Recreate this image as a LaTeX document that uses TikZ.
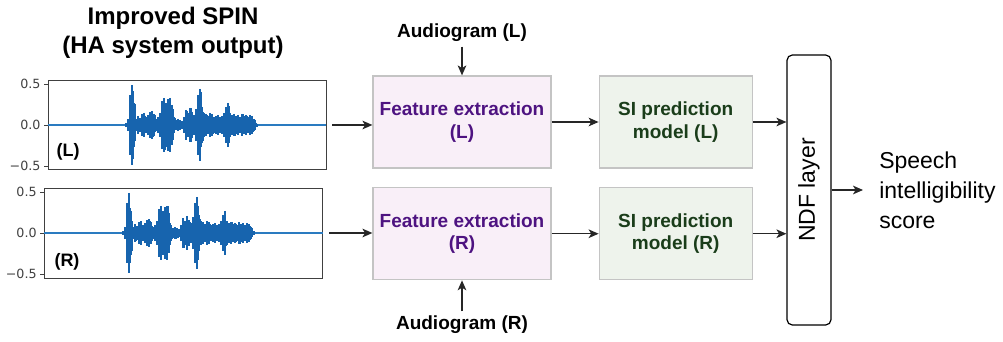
\documentclass[tikz,border=0pt]{standalone}
\usepackage{fontspec}
\setmainfont{Liberation Sans}
\newfontfamily\tickfont{DejaVu Sans}
\usepackage{graphicx}
\usetikzlibrary{arrows.meta,positioning,calc}
\definecolor{featfill}{HTML}{F9EFF8}
\definecolor{feattext}{HTML}{4E1381}
\definecolor{sifill}{HTML}{EEF3EC}
\definecolor{sitext}{HTML}{1A3D1A}
\definecolor{boxline}{HTML}{C4C4C4}
\definecolor{wavec}{HTML}{1764AE}
\definecolor{zeroc}{HTML}{2A7BC0}

\begin{document}
\begin{tikzpicture}[x=0.75pt,y=-0.75pt,
  box/.style={rectangle,draw=boxline,line width=0.9pt,minimum width=133.5pt,minimum height=69pt,align=center,font=\bfseries\fontsize{14.25}{17}\selectfont},
  feat/.style={box,fill=featfill,text=feattext},
  si/.style={box,fill=sifill,text=sitext,minimum width=114.75pt},
  plotframe/.style={rectangle,draw=black!75,line width=0.7pt,minimum width=208.5pt,minimum height=66.75pt,inner sep=0pt},
  lbl/.style={font=\bfseries\fontsize{14.25}{17}\selectfont},
  tick/.style={font=\tickfont\fontsize{9.5}{11}\selectfont,anchor=east,inner sep=2pt},
  wave/.style={wavec,line width=1.4pt},
  arrow/.style={-{Stealth[length=7.5pt,width=6.5pt,inset=2pt]},draw=black!85,line width=1pt}]
\useasboundingbox (0,0) rectangle (1003,342);

% title and the two signal plots
\node[align=center,font=\bfseries\fontsize{18}{21.75}\selectfont] (title) at (173,32.5) {Improved SPIN\\(HA system output)};
\node[plotframe] (plotL) at (187,125) {};
\node[plotframe,minimum width=209pt,minimum height=67.5pt] (plotR) at (183.5,233) {};
\foreach \p in {plotL,plotR} {
  \draw[zeroc,line width=0.9pt] (\p.west) -- (\p.east);
  \foreach \dy/\lab [count=\i] in {-41/0.5,0/0.0,41/−0.5}
    \draw[black!75,line width=0.6pt] ($(\p.west)+(0,\dy)$) -- ++(-4,0) node[tick] (\p-t\i) {\lab};
}
\node[lbl,font=\bfseries\fontsize{13.5}{16}\selectfont] (chL) at (68,152) {(L)};
\node[lbl,font=\bfseries\fontsize{13.5}{16}\selectfont] (chR) at (67,262) {(R)};
\pgfmathsetseed{11}
\foreach \sx/\sy in {126/125,123/233} {
  \begin{scope}[shift={(\sx,\sy)}]
    \foreach \x/\a in {0/2,2/6,4/30,6/40,8/22,10/6,12/9,14/7,16/11,18/12,20/8,22/10,24/13,26/14,28/11,30/6,
        32/8,34/12,36/24,38/27,40/22,42/26,44/27,46/20,48/8,50/5,52/6,54/5,56/4,58/8,60/15,62/12,64/17,
        66/13,68/10,70/16,72/30,74/36,76/18,78/12,80/11,82/9,84/12,86/11,88/8,90/9,92/10,94/8,96/9,98/12,
        100/18,102/22,104/12,106/10,108/11,110/9,112/10,114/8,116/11,118/9,120/10,122/8,124/10,126/9,128/6,130/2} {
      \draw[wave] (\x,-\a) -- (\x,\a);
      \draw[wave] ({\x+1},{-\a*(0.5+0.5*rnd)}) -- ({\x+1},{\a*(0.5+0.5*rnd)});
    }
  \end{scope}
}

% processing blocks
\node[feat] (featL) at (462,122) {Feature extraction\\(L)};
\node[feat,below=13.9pt of featL] (featR) {Feature extraction\\(R)};
\node[si,right=35.25pt of featL] (siL) {SI prediction\\model (L)};
\node[si,right=35.25pt of featR] (siR) {SI prediction\\model (R)};
\node[draw,rounded corners=4pt,line width=0.9pt,minimum width=33pt,minimum height=202.5pt,font=\fontsize{17.25}{20}\selectfont] (ndf) at (809,190) {\rotatebox{90}{NDF layer}};
\node[anchor=west,align=left,inner sep=0pt,font=\fontsize{17.25}{22.5}\selectfont] (score) at (879,190) {Speech\\intelligibility\\score};
\node[lbl] (audL) at (462,33) {Audiogram (L)};
\node[lbl] (audR) at (462,325) {Audiogram (R)};

\draw[arrow] (audL) -- (featL); \draw[arrow] (audR) -- (featR);
\draw[arrow,shorten <=4.5pt] (plotL.east) -- (plotL.east -| featL.west);
\draw[arrow,shorten <=4.5pt] (plotR.east) -- (plotR.east -| featR.west);
\draw[arrow] (featL) -- (siL); \draw[arrow] (featR) -- (siR);
\draw[arrow] (siL.east) -- (siL.east -| ndf.west);
\draw[arrow] (siR.east) -- (siR.east -| ndf.west);
\draw[arrow,shorten >=12pt] (ndf.east) -- (score.west);
\end{tikzpicture}
\end{document}
